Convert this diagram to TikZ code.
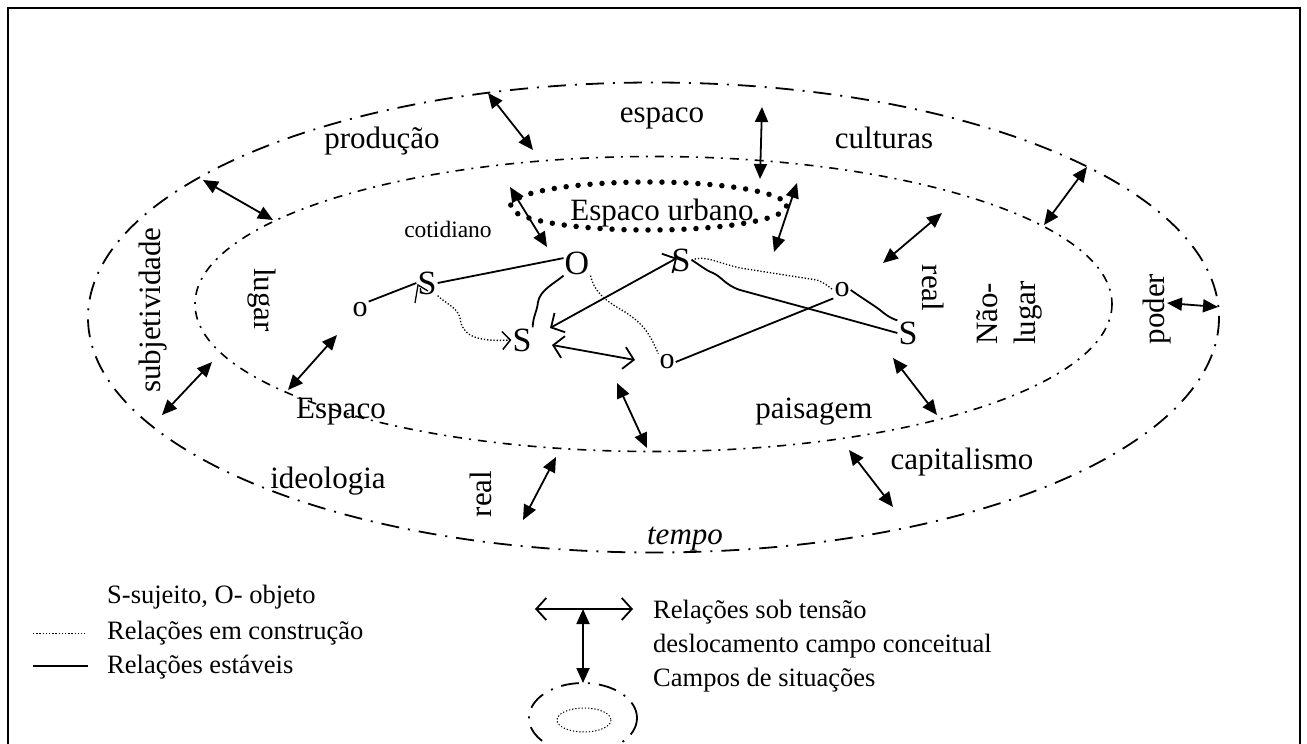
\documentclass[tikz,border=0pt]{standalone}
\usepackage{fontspec}
\setmainfont{Liberation Serif}
\usetikzlibrary{arrows.meta,calc}
\begin{document}
\begin{tikzpicture}[x=1pt,y=-1pt,
  lab/.style={font=\fontsize{31}{34}\selectfont, inner sep=0pt},
  leg/.style={font=\fontsize{26.5}{30}\selectfont, inner sep=0pt, anchor=base west},
  big/.style={font=\fontsize{34}{36}\selectfont, inner sep=1pt},
  sml/.style={font=\fontsize{30}{32}\selectfont, inner sep=1pt},
  tens/.style={line width=1.8pt, {Triangle[length=15pt,width=13pt]}-{Triangle[length=15pt,width=13pt]}},
  openarr/.style={line width=1.8pt, {Straight Barb[length=10pt,width=22pt]}-{Straight Barb[length=10pt,width=22pt]}},
  outerdash/.style={line width=1.8pt, dash pattern=on 18pt off 9pt on 2pt off 9pt},
  innerdash/.style={line width=1.6pt, dash pattern=on 9pt off 7pt on 2pt off 7pt},
  dotrel/.style={line width=1.3pt, dash pattern=on 1.3pt off 1.9pt},
  solrel/.style={line width=1.8pt}
]
\useasboundingbox (0,0) rectangle (1307,744);
\draw[line width=2.4pt] (8,760) -- (8,8) -- (1300,8) -- (1300,760);

% fields
\draw[outerdash] (653.5,317.5) ellipse [x radius=565.5, y radius=235];
\draw[innerdash] (653.5,304) ellipse [x radius=458.5, y radius=147.5];
\draw[line width=5.5pt, line cap=round, dash pattern=on 0pt off 12pt] (648.5,206) ellipse [x radius=138, y radius=24];

% labels
\node[lab, anchor=base] (tesp) at (662,122) {espaco};
\node[lab, anchor=base] (tprod) at (382,148) {produção};
\node[lab, anchor=base] (tcult) at (884,148) {culturas};
\node[lab, anchor=base, font=\fontsize{23.5}{26}\selectfont] (tcot) at (448,237) {cotidiano};
\node[lab, anchor=base] (turb) at (662,220) {Espaco urbano};
\node[lab, anchor=base] (tEsp) at (341,418) {Espaco};
\node[lab, anchor=base] (tpais) at (814,418) {paisagem};
\node[lab, anchor=base] (tideo) at (328,488) {ideologia};
\node[lab, anchor=base, font=\fontsize{31}{34}\selectfont\itshape] (ttempo) at (685,544) {tempo};
\node[lab, anchor=base] (tcap) at (962,469) {capitalismo};
\node[lab, rotate=90] (tsubj) at (153,310) {subjetividade};
\node[lab, rotate=-90] (tlug) at (262,300) {lugar};
\node[lab, rotate=-90] (treal1) at (933,288) {real};
\node[lab, rotate=90, anchor=west] (tnao) at (987,345) {Não-};
\node[lab, rotate=90, anchor=west] (tnlug) at (1028,345) {lugar};
\node[lab, rotate=90] (tpoder) at (1157,309) {poder};
\node[lab, rotate=90] (treal2) at (481,494) {real};

% subjects / objects
\node[sml] (oL) at (360,310) {o};
\node[big] (SL) at (427,283) {S};
\node[big] (O) at (577,263) {O};
\node[big] (SC) at (522,340) {S};
\node[big] (SR) at (681,260) {S};
\node[sml] (oR) at (842,290) {o};
\node[big] (SR2) at (908,333) {S};
\node[sml] (oC) at (667,362) {o};

% stable relations
\draw[solrel] (oL.north east) -- (SL.west);
\draw[solrel] (SL.east) -- (O.160);
\draw[solrel] (O.south west) .. controls (555,283) and (540,290) .. (538,302) .. controls (537,312) and (533,316) .. (SC.north east);
\draw[solrel] (oC.east) -- (oR.south west);
\draw[solrel] (SR.east) .. controls (700,265) and (705,270) .. (713,273) .. controls (722,277) and (725,285) .. (740,290) -- (843,318) -- (SR2.west);
\draw[solrel] (oR.east) .. controls (865,300) and (872,304) .. (880,310) .. controls (886,315) and (890,318) .. (SR2.north west);

% relations under construction
\draw[dotrel, -{Straight Barb[length=8pt,width=18pt,line width=1.5pt]}] (SL.south east) .. controls (445,303) and (458,308) .. (460,318) .. controls (462,335) and (475,342) .. (SC.west);
\draw[line width=1.3pt] (415,303) -- (418,285) -- (428,291);
\draw[dotrel] (O.south east) .. controls (595,295) and (610,303) .. (625,312) .. controls (645,325) and (650,335) .. (oC.north west);
\draw[dotrel] (SR.east) .. controls (705,255) and (715,262) .. (740,268) -- (817,280) .. controls (824,283) .. (oR.west);

% relations under tension
\draw[openarr] ($(SC)+(28,-12)$) -- ($(SR)+(-4,-2)$);
\draw[openarr] ($(SC)+(30,5)$) -- ($(oC)+(-32,-2)$);

% conceptual field shifts
\draw[tens] (488,93) -- (533,150);
\draw[tens] (762,107) -- (760,179);
\draw[tens] (510,187) -- (547,247);
\draw[tens] (797,183) -- (774,252);
\draw[tens] (1087,167) -- (1044,225);
\draw[tens] (942,213) -- (883,263);
\draw[tens] (203,180) -- (273,220);
\draw[tens] (162,415) -- (212,362);
\draw[tens] (337,335) -- (288,390);
\draw[tens] (617,383) -- (647,448);
\draw[tens] (893,358) -- (937,415);
\draw[tens] (556,457) -- (523,520);
\draw[tens] (849,450) -- (893,507);
\draw[tens] (1167,303) -- (1218,307);

% legend
\node[leg] (l1) at (107,603) {S-sujeito, O- objeto};
\node[leg] (l2) at (107,639) {Relações em construção};
\node[leg] (l3) at (107,673) {Relações estáveis};
\draw[dotrel, line width=1pt] (33,633) -- (85,633);
\draw[solrel] (33,666) -- (88,666);
\node[leg] (l4) at (653,618) {Relações sob tensão};
\node[leg] (l5) at (653,652) {deslocamento campo conceitual};
\node[leg] (l6) at (653,686) {Campos de situações};
\coordinate (la) at (535,609);
\coordinate (lb) at (633,609);
\coordinate (lm) at (583,609);
\draw[openarr] (la) -- (lb);
\draw[outerdash] (583,718) ellipse [x radius=54, y radius=35];
\draw[dotrel, line width=1pt] (584,720) ellipse [x radius=27, y radius=12];
\draw[tens] (lm) -- (583,683);
\end{tikzpicture}
\end{document}
